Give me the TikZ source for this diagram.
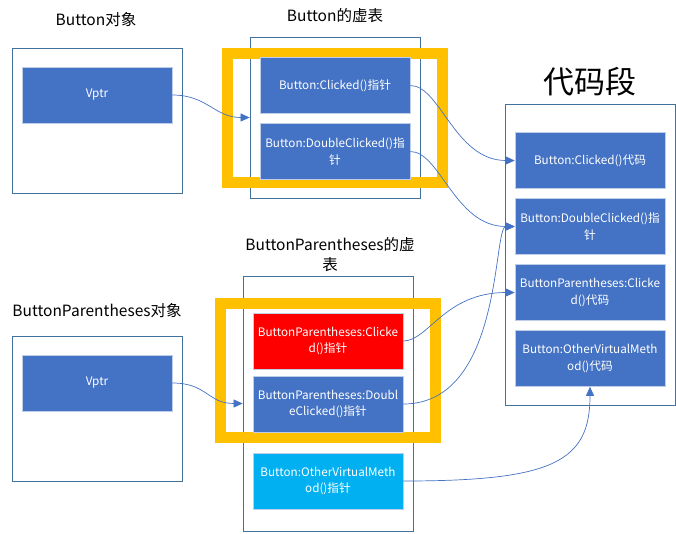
\documentclass[tikz,border=0pt]{standalone}
\usepackage{fontspec}
\setmainfont{Noto Sans CJK SC}
\usetikzlibrary{arrows.meta}
\definecolor{entryblue}{RGB}{68,114,196}
\definecolor{boxline}{RGB}{65,113,156}
\definecolor{frameyellow}{RGB}{255,192,0}
\definecolor{entryred}{RGB}{255,0,0}
\definecolor{entrycyan}{RGB}{0,176,240}
\definecolor{entryedge}{RGB}{190,205,232}
\begin{document}
\begin{tikzpicture}[x=1pt,y=-1pt,
		holder/.style={draw=boxline,line width=0.8pt,minimum width=170pt,inner sep=0pt},
		slot/.style={fill=entryblue,draw=entryedge,line width=0.6pt,text=white,minimum width=150pt,minimum height=56pt,inner sep=0pt,align=center,font=\fontsize{11.7}{16.5}\selectfont},
		ring/.style={draw=frameyellow,line width=11pt,inner sep=0pt},
		link/.style={draw=entryblue,line width=0.7pt,-{Triangle[length=9pt,width=8pt]}}]
	\useasboundingbox (0,0) rectangle (676,533);
	% frames
	\node[holder,minimum height=145pt] (objA) at (97,120.5) {};
	\node[holder,minimum height=161pt] (vtA) at (335,117.5) {};
	\node[holder,minimum height=301pt] (code) at (590,255) {};
	\node[holder,minimum height=255pt] (vtB) at (328,403.5) {};
	\node[holder,minimum height=145pt] (objB) at (97,408.5) {};
	\node[ring,minimum width=215pt,minimum height=129pt] (ringA) at (335,118) {};
	\node[ring,minimum width=215pt,minimum height=134pt] (ringB) at (328,370.5) {};
	% titles
	\begin{scope}[every node/.style={font=\fontsize{15.5}{20}\selectfont,align=center}]
		\node (tobjA) at (96,20) {Button对象};
		\node (tvtA) at (335,16) {Button的虚表};
		\node (tobjB) at (97,311) {ButtonParentheses对象};
		\node (tvtB) at (330,255) {ButtonParentheses的虚\\表};
		\node[font=\fontsize{31}{36}\selectfont] (tcode) at (590,82) {代码段};
	\end{scope}
	% entries
	\node[slot] (vptrA) at (97,95) {Vptr};
	\node[slot] (clkA) at (335,85.5) {Button:Clicked()指针};
	\node[slot] (dblA) at (335,151.5) {Button:DoubleClicked()指\\针};
	\node[slot] (vptrB) at (97,383) {Vptr};
	\node[slot,fill=entryred] (clkB) at (328,341) {ButtonParentheses:Clicke\\d()指针};
	\node[slot] (dblB) at (328,404) {ButtonParentheses:Doubl\\eClicked()指针};
	\node[slot,fill=entrycyan] (othB) at (328,481) {Button:OtherVirtualMeth\\od()指针};
	\node[slot] (cClk) at (590,160.5) {Button:Clicked()代码};
	\node[slot] (cDbl) at (590,226.5) {Button:DoubleClicked()指\\针};
	\node[slot] (cClkB) at (590,292.5) {ButtonParentheses:Clicke\\d()代码};
	\node[slot] (cOth) at (590,358.5) {Button:OtherVirtualMeth\\od()代码};
	% pointers
	\draw[link] (vptrA.east) .. controls +(35,0) and +(-35,0) .. (vtA.west);
	\draw[link] (vptrB.east) .. controls +(35,0) and +(-35,0) .. (vtB.west);
	\draw[link] (clkA.east) .. controls +(30,0) and +(-60,0) .. (cClk.west);
	\draw[link] (dblA.east) .. controls +(30,0) and +(-60,0) .. (cDbl.west);
	\draw[link] (clkB.east) .. controls +(25,0) and +(-70,0) .. (cClkB.west);
	\draw[link] (dblB.east) .. controls +(100,0) and +(-22,0) .. (cDbl.west);
	\draw[link] (othB.east) .. controls +(150,0) and +(0,75) .. (cOth.south);
\end{tikzpicture}
\end{document}
